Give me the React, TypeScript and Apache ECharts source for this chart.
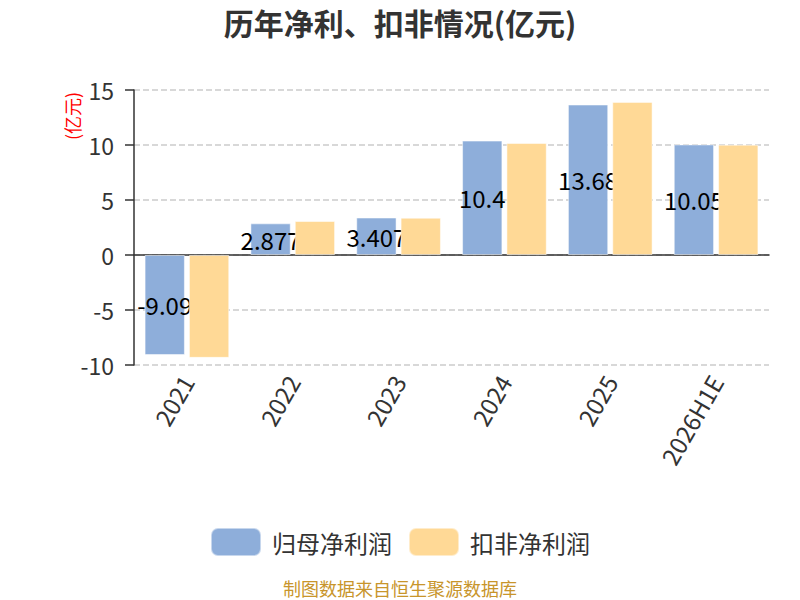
import React, { useEffect, useRef } from "react";
import * as echarts from "echarts";

const categories = ["2021", "2022", "2023", "2024", "2025", "2026H1E"];
const netProfit = [-9.09, 2.877, 3.407, 10.4, 13.68, 10.05];
const deductedProfit = [-9.35, 3.09, 3.39, 10.18, 13.92, 10.03];
const seriesNames = ["归母净利润", "扣非净利润"];

const FONT = "Noto Sans CJK SC";

export default function App() {
  const ref = useRef<HTMLDivElement>(null);
  useEffect(() => {
    if (!ref.current) return;
    const chart = echarts.init(ref.current, undefined, { renderer: "svg" });
    chart.setOption({
      animation: false,
      textStyle: { fontFamily: FONT },
      title: {
        text: "历年净利、扣非情况(亿元)",
        left: "center",
        top: 2,
        textStyle: { fontSize: 30, fontWeight: "bold", color: "#333", fontFamily: FONT },
      },
      legend: {
        top: 522,
        left: "center",
        itemWidth: 50,
        itemHeight: 28,
        itemGap: 16,
        data: seriesNames,
        textStyle: { fontSize: 24, color: "#333", fontFamily: FONT, padding: [0, 0, 0, 6] },
      },
      grid: { left: 134, right: 31, top: 90, bottom: 235 },
      xAxis: {
        type: "category",
        data: categories,
        axisLine: { lineStyle: { color: "#333", width: 1.5 } },
        axisTick: { length: 8, lineStyle: { color: "#333", width: 1.5 } },
        axisLabel: { rotate: 60, fontSize: 24, color: "#333", margin: 12, fontFamily: FONT },
      },
      yAxis: {
        type: "value",
        min: -10,
        max: 15,
        interval: 5,
        axisLine: { show: true, lineStyle: { color: "#333", width: 1.5 } },
        axisTick: { show: true, length: 9, lineStyle: { color: "#333", width: 1.5 } },
        axisLabel: { fontSize: 23, color: "#333", margin: 20, fontFamily: FONT },
        splitLine: { lineStyle: { type: "dashed", color: "#ccc", width: 1.5 } },
      },
      graphic: [
        {
          type: "text",
          x: 72,
          y: 116,
          rotation: Math.PI / 2,
          style: {
            text: "(亿元)",
            fill: "#ff0000",
            fontSize: 18,
            fontFamily: FONT,
            align: "center",
            verticalAlign: "middle",
          },
        },
        {
          type: "text",
          x: 400,
          y: 588,
          style: {
            text: "制图数据来自恒生聚源数据库",
            fill: "#c8952b",
            fontSize: 18,
            fontFamily: FONT,
            align: "center",
            verticalAlign: "middle",
          },
        },
      ],
      series: [
        {
          name: seriesNames[0],
          type: "bar",
          data: netProfit,
          barGap: "10%",
          barCategoryGap: "20%",
          itemStyle: { color: "#8eaeda", borderColor: "rgba(255,255,255,0.5)", borderWidth: 1 },
          label: {
            show: true,
            position: "inside",
            fontSize: 24,
            color: "#000",
            fontFamily: FONT,
          },
          z: 2,
        },
        {
          name: seriesNames[1],
          type: "bar",
          data: deductedProfit,
          barGap: "10%",
          barCategoryGap: "20%",
          itemStyle: { color: "#ffd996", borderColor: "rgba(255,255,255,0.5)", borderWidth: 1 },
          z: 3,
        },
      ],
    });
    return () => chart.dispose();
  }, []);
  return (
    <div
      ref={ref}
      style={{ position: "absolute", left: 0, top: 0, width: 800, height: 600 }}
    />
  );
}
